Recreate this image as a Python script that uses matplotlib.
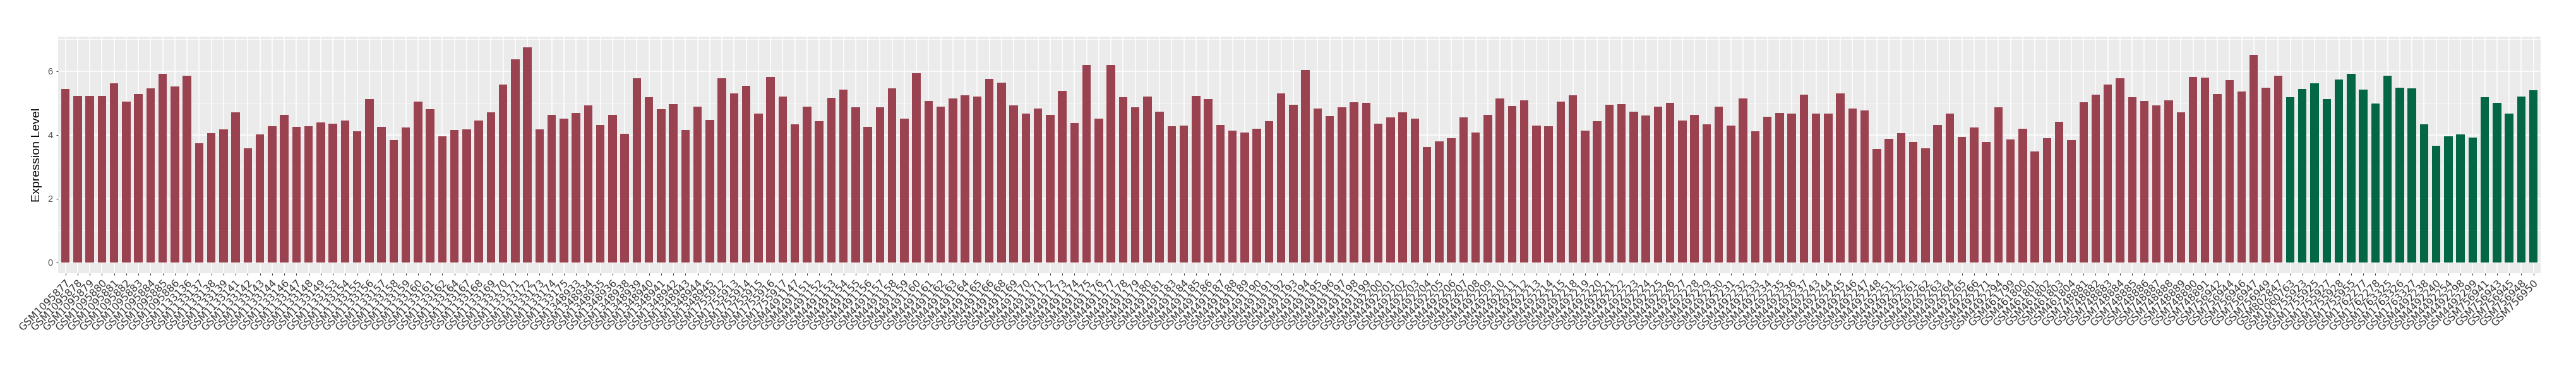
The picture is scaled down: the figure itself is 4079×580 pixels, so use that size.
import numpy as np
import matplotlib
matplotlib.use("Agg")
import matplotlib.pyplot as plt

# sample names, in plotting order (red group then green group)
red_samples = """
GSM1095877 GSM1095878 GSM1095879 GSM1095880 GSM1095881 GSM1095882 GSM1095883 GSM1095884 GSM1095885 GSM1095886
GSM1133136 GSM1133137 GSM1133138 GSM1133139 GSM1133141 GSM1133142 GSM1133143 GSM1133144 GSM1133146 GSM1133147
GSM1133148 GSM1133149 GSM1133153 GSM1133154 GSM1133155 GSM1133156 GSM1133157 GSM1133158 GSM1133159 GSM1133160
GSM1133161 GSM1133162 GSM1133164 GSM1133167 GSM1133168 GSM1133169 GSM1133170 GSM1133171 GSM1133172 GSM1133173
GSM1133174 GSM1133175
GSM1348933 GSM1348934 GSM1348935 GSM1348936 GSM1348938 GSM1348939 GSM1348940 GSM1348941 GSM1348942 GSM1348943
GSM1348944 GSM1348945
GSM1755912 GSM1755913 GSM1755914 GSM1755915 GSM1755916 GSM1755917
GSM4491147 GSM4491151 GSM4491152 GSM4491153 GSM4491154 GSM4491155 GSM4491156 GSM4491157 GSM4491158 GSM4491159
GSM4491160 GSM4491161 GSM4491162 GSM4491163 GSM4491164 GSM4491165 GSM4491166 GSM4491168 GSM4491169 GSM4491170
GSM4491171 GSM4491172 GSM4491173 GSM4491174 GSM4491175 GSM4491176 GSM4491177 GSM4491178 GSM4491179 GSM4491180
GSM4491181 GSM4491183 GSM4491184 GSM4491185 GSM4491186 GSM4491187 GSM4491188 GSM4491189 GSM4491190 GSM4491191
GSM4491192 GSM4491193 GSM4491194 GSM4491195 GSM4491196 GSM4491197 GSM4491198 GSM4491199
GSM4492200 GSM4492201 GSM4492202 GSM4492203 GSM4492204 GSM4492205 GSM4492206 GSM4492207 GSM4492208 GSM4492209
GSM4492210 GSM4492211 GSM4492212 GSM4492213 GSM4492214 GSM4492215 GSM4492218 GSM4492219 GSM4492220 GSM4492221
GSM4492222 GSM4492223 GSM4492224 GSM4492225 GSM4492226 GSM4492227 GSM4492228 GSM4492229 GSM4492230 GSM4492231
GSM4492232 GSM4492233 GSM4492234 GSM4492235 GSM4492236 GSM4492237 GSM4492243 GSM4492244 GSM4492245 GSM4492246
GSM4492247 GSM4492248 GSM4492251 GSM4492252 GSM4492261 GSM4492262 GSM4492263 GSM4492264 GSM4492265 GSM4492266
GSM4492271 GSM4492294
GSM461799 GSM461800 GSM461801 GSM461802 GSM461803 GSM461804
GSM748881 GSM748882 GSM748883 GSM748884 GSM748885 GSM748886 GSM748887 GSM748888 GSM748889 GSM748890 GSM748891
GSM756942 GSM756944 GSM756946 GSM756947 GSM756949
GSM802847
""".split()

red_values = [
    5.45, 5.23, 5.23, 5.23, 5.61, 5.04, 5.29, 5.47, 5.91, 5.51,
    5.85, 3.73, 4.05, 4.18, 4.70, 3.58, 4.01, 4.28, 4.62, 4.26,
    4.28, 4.39, 4.36, 4.45, 4.12, 5.12, 4.26, 3.83, 4.23, 5.05,
    4.80, 3.95, 4.15, 4.18, 4.46, 4.70, 5.58, 6.38, 6.75, 4.18,
    4.62, 4.52,
    4.68, 4.92, 4.32, 4.62, 4.03, 5.78, 5.18, 4.80, 4.96, 4.15,
    4.88, 4.48,
    5.77, 5.31, 5.53, 4.66, 5.82, 5.21,
    4.33, 4.88, 4.43, 5.16, 5.43, 4.86, 4.25, 4.86, 5.47, 4.51,
    5.93, 5.06, 4.88, 5.14, 5.24, 5.20, 5.75, 5.63, 4.92, 4.66,
    4.82, 4.62, 5.38, 4.37, 6.19, 4.51, 6.19, 5.18, 4.86, 5.20,
    4.72, 4.27, 4.29, 5.22, 5.12, 4.31, 4.13, 4.07, 4.19, 4.43,
    5.30, 4.94, 6.03, 4.82, 4.58, 4.86, 5.02, 5.00,
    4.35, 4.55, 4.70, 4.51, 3.62, 3.79, 3.89, 4.55, 4.07, 4.62,
    5.14, 4.90, 5.08, 4.29, 4.27, 5.04, 5.24, 4.13, 4.43, 4.94,
    4.96, 4.72, 4.60, 4.88, 5.00, 4.45, 4.62, 4.33, 4.88, 4.29,
    5.14, 4.11, 4.57, 4.68, 4.66, 5.26, 4.66, 4.66, 5.30, 4.82,
    4.76, 3.56, 3.87, 4.05, 3.77, 3.58, 4.31, 4.66, 3.93, 4.23,
    3.77, 4.86,
    3.85, 4.19, 3.48, 3.89, 4.41, 3.83,
    5.02, 5.26, 5.57, 5.77, 5.18, 5.06, 4.92, 5.08, 4.70, 5.81, 5.79,
    5.28, 5.71, 5.37, 6.50, 5.49,
    5.86,
]

green_samples = """
GSM1060763 GSM1755923 GSM1755925 GSM1755927 GSM1755928 GSM1755955 GSM1762277 GSM1762278
GSM1763325 GSM1763326 GSM1763327 GSM4492238 GSM4492240 GSM4492254 GSM4492298 GSM4492299
GSM756941 GSM756943 GSM756945 GSM756948 GSM756950
""".split()

green_values = [
    5.18, 5.45, 5.61, 5.13, 5.74, 5.92, 5.43, 4.98,
    5.85, 5.49, 5.47, 4.34, 3.66, 3.95, 4.01, 3.91,
    5.19, 5.01, 4.66, 5.21, 5.41,
]

samples = red_samples + green_samples
values = red_values + green_values
colors = ["#9B4251"] * len(red_values) + ["#036746"] * len(green_values)

fig = plt.figure(figsize=(40.8, 5.8), dpi=100)
ax = fig.add_axes([0.02255, 0.2534, 0.9635, 0.647])
ax.set_facecolor("#EBEBEB")

x = np.arange(len(samples))
ax.bar(x, values, width=0.7, color=colors, zorder=3)

ymax = max(values)
ax.set_xlim(-0.6, len(samples) - 1 + 0.6)
ax.set_ylim(-0.05 * ymax, 1.05 * ymax)

ax.set_yticks([0, 2, 4, 6])
ax.set_yticks([1, 3, 5, 7], minor=True)
ax.set_xticks(x)
ax.set_xticklabels(samples, rotation=45, ha="right", va="top",
                   rotation_mode="anchor", fontsize=11.5,
                   family="DejaVu Sans", color="#333333")
for lab in ax.get_yticklabels():
    lab.set_family("Liberation Sans")
    lab.set_fontsize(10.5)
    lab.set_color("#4D4D4D")

ax.grid(which="major", color="white", linewidth=1.1, zorder=0)
ax.grid(which="minor", axis="y", color="white", linewidth=0.55, zorder=0)
ax.tick_params(which="major", length=2.5, width=0.8, color="#333333")
ax.tick_params(which="major", axis="x", pad=3)
ax.tick_params(which="minor", length=0)
for s in ax.spines.values():
    s.set_visible(False)
ax.set_axisbelow(True)

ax.set_ylabel("Expression Level", fontsize=14, family="Liberation Sans", labelpad=6)

fig.savefig("out.png", dpi=100)
